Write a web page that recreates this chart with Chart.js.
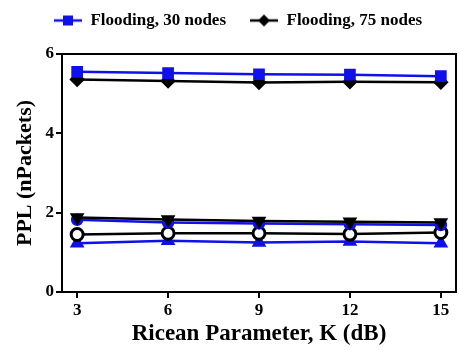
<!DOCTYPE html>
<html>
<head>
<meta charset="utf-8">
<script src="https://cdn.jsdelivr.net/npm/chart.js@4/dist/chart.umd.min.js"></script>
<style>
  html, body { margin: 0; padding: 0; background: #fff; }
  #myChart { display: block; }
</style>
</head>
<body>
<canvas id="myChart" width="459" height="352"></canvas>
<script>
// data
var kValues = [3, 6, 9, 12, 15];
var xTicks = [3, 6, 9, 12, 15];
var yTicks = [0, 2, 4, 6];
var flood30 = [5.55, 5.52, 5.49, 5.48, 5.44];
var flood75 = [5.36, 5.32, 5.28, 5.30, 5.29];
var blackTri = [1.88, 1.83, 1.79, 1.77, 1.75];
var blueCircle = [1.82, 1.75, 1.73, 1.71, 1.69];
var blackRing = [1.45, 1.48, 1.48, 1.46, 1.50];
var blueTri = [1.23, 1.29, 1.25, 1.27, 1.23];

var BLUE = '#1010e8';
var BLACK = '#000000';
var FONT = '"Liberation Serif", "Times New Roman", serif';

function toPoints(vals){
    var pts = [];
    for (var i in vals) {
        pts.push({x: kValues[i], y: vals[i]});
    }
    return pts;
}

// line + marker icon for the legend (left part left blank as spacing)
function legendIcon(color, shape){
    var c = document.createElement('canvas');
    c.width = 40; c.height = 14;
    var g = c.getContext('2d');
    g.strokeStyle = color;
    g.fillStyle = color;
    g.lineWidth = 2.5;
    g.beginPath(); g.moveTo(12, 7); g.lineTo(40, 7); g.stroke();
    g.beginPath();
    if (shape == 'rect') {
        g.rect(21, 2, 10, 10);
    } else {
        g.moveTo(26, 1); g.lineTo(32, 7); g.lineTo(26, 13); g.lineTo(20, 7); g.closePath();
    }
    g.fill();
    return c;
}

var frame = {
    id: 'frame',
    afterDraw: function(chart){
        var a = chart.chartArea, ctx = chart.ctx;
        ctx.save();
        ctx.strokeStyle = '#000';
        ctx.lineWidth = 2;
        ctx.strokeRect(a.left, a.top, a.right - a.left, a.bottom - a.top);
        ctx.restore();
    }
};

var legendHeight = {
    id: 'legendHeight',
    beforeInit: function(chart){
        var fit = chart.legend.fit;
        chart.legend.fit = function(){
            fit.bind(this)();
            this.height = 54;
        };
    }
};

var ctx = document.getElementById('myChart').getContext('2d');
var chart = new Chart(ctx, {
    type: 'line',
    data: {
        datasets: [
            { label: 'Flooding, 30 nodes', data: toPoints(flood30), borderColor: BLUE, backgroundColor: BLUE,
              pointStyle: 'rect', pointRadius: 6.5, borderWidth: 2.5 },
            { label: 'Flooding, 75 nodes', data: toPoints(flood75), borderColor: BLACK, backgroundColor: BLACK,
              pointStyle: 'rectRot', pointRadius: 6, borderWidth: 2.5 },
            { label: 's3', data: toPoints(blackTri), borderColor: BLACK, backgroundColor: BLACK,
              pointStyle: 'triangle', pointRotation: 180, pointRadius: 6, borderWidth: 2.5 },
            { label: 's4', data: toPoints(blueCircle), borderColor: BLUE, backgroundColor: BLUE,
              pointStyle: 'circle', pointRadius: 5, borderWidth: 2.5 },
            { label: 's5', data: toPoints(blackRing), borderColor: BLACK, backgroundColor: '#fff',
              pointStyle: 'circle', pointRadius: 6, pointBorderWidth: 3, borderWidth: 2.5 },
            { label: 's6', data: toPoints(blueTri), borderColor: BLUE, backgroundColor: BLUE,
              pointStyle: 'triangle', pointRadius: 6, borderWidth: 2.5 }
        ]
    },
    options: {
        responsive: false,
        animation: false,
        layout: { autoPadding: false, padding: { left: 8, right: 3, top: 0, bottom: 0 } },
        plugins: {
            tooltip: { enabled: false },
            legend: {
                position: 'top',
                labels: {
                    filter: function(item){ return item.datasetIndex < 2; },
                    generateLabels: function(chart){
                        var icons = [legendIcon(BLUE, 'rect'), legendIcon(BLACK, 'diamond')];
                        return chart.data.datasets.map(function(ds, i){
                            return { text: ds.label, datasetIndex: i, pointStyle: icons[i] || 'line',
                                     fillStyle: ds.borderColor, strokeStyle: ds.borderColor, lineWidth: 0, hidden: false };
                        });
                    },
                    usePointStyle: true,
                    pointStyleWidth: 40,
                    padding: 12,
                    color: '#000',
                    font: { family: FONT, size: 17, weight: 'bold' }
                }
            }
        },
        scales: {
            x: {
                type: 'linear',
                min: 2.5, max: 15.5,
                afterBuildTicks: function(axis){ axis.ticks = xTicks.map(function(v){ return {value: v}; }); },
                afterFit: function(axis){ axis.height = 60; axis.paddingLeft = 0; axis.paddingRight = 0; },
                grid: { drawOnChartArea: false, drawTicks: true, tickLength: 6, color: '#000', lineWidth: 2 },
                border: { display: true, color: '#000', width: 2 },
                ticks: { color: '#000', padding: 2, font: { family: FONT, size: 17, weight: 'bold' } },
                title: { display: true, text: 'Ricean Parameter, K (dB)', color: '#000', padding: { top: 3 },
                         font: { family: FONT, size: 23, weight: 'bold' } }
            },
            y: {
                min: 0, max: 6,
                afterBuildTicks: function(axis){ axis.ticks = yTicks.map(function(v){ return {value: v}; }); },
                afterFit: function(axis){ axis.width = 54; },
                grid: { drawOnChartArea: false, drawTicks: true, tickLength: 6, color: '#000', lineWidth: 2 },
                border: { display: true, color: '#000', width: 2 },
                ticks: { color: '#000', padding: 2, font: { family: FONT, size: 17, weight: 'bold' } },
                title: { display: true, text: 'PPL (nPackets)', color: '#000', padding: { top: 4, bottom: 4 },
                         font: { family: FONT, size: 22, weight: 'bold' } }
            }
        }
    },
    plugins: [frame, legendHeight]
});
</script>
</body>
</html>
